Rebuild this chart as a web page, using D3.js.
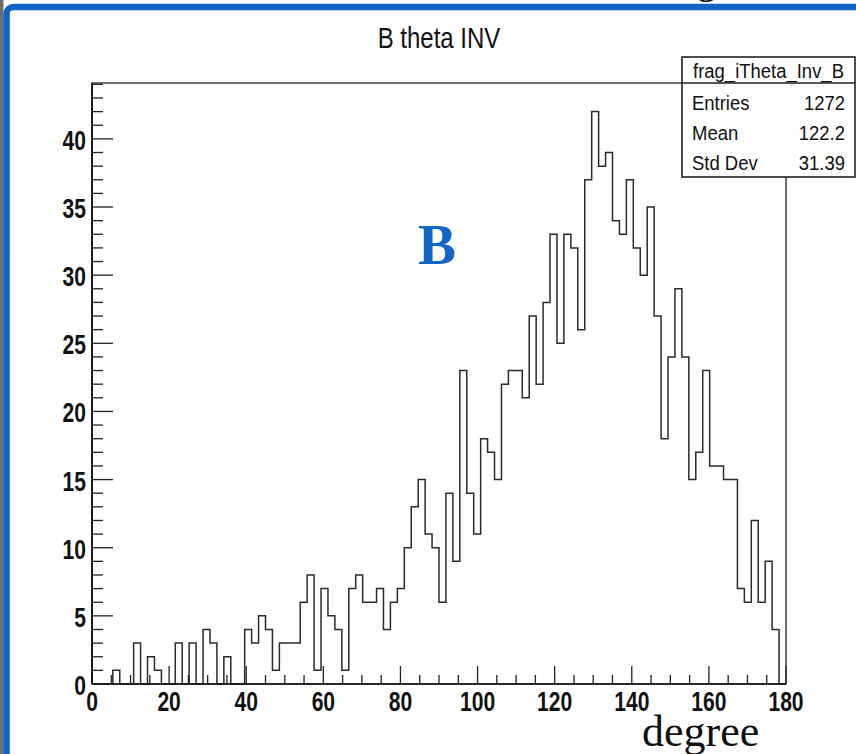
<!DOCTYPE html>
<html>
<head>
<meta charset="utf-8">
<script src="https://cdn.jsdelivr.net/npm/d3@7/dist/d3.min.js"></script>
<style>
  html, body { margin: 0; padding: 0; background: #ffffff; }
  svg { display: block; }
</style>
</head>
<body>
<svg id="chart" width="856" height="754"></svg>
<script>
// Histogram frag_iTheta_Inv_B: 100 bins over 0..180 degrees
const xRange = [0, 180];
const binCounts = [
  0, 0, 0, 1, 0, 0, 3, 0, 2, 1,
  0, 0, 3, 0, 3, 0, 4, 3, 0, 2,
  0, 0, 4, 3, 5, 4, 1, 3, 3, 3,
  6, 8, 1, 7, 5, 4, 1, 7, 8, 6,
  6, 7, 4, 6, 7, 10, 13, 15, 11, 10,
  6, 14, 9, 23, 14, 11, 18, 17, 15, 22,
  23, 23, 21, 27, 22, 28, 33, 25, 33, 32,
  26, 37, 42, 38, 39, 34, 33, 37, 32, 30,
  35, 27, 18, 24, 29, 24, 15, 17, 23, 16,
  16, 15, 15, 7, 6, 12, 6, 9, 4, 0
];
const xTickLabels = [0, 20, 40, 60, 80, 100, 120, 140, 160, 180];
const yTickLabels = [0, 5, 10, 15, 20, 25, 30, 35, 40];
const statNames = ["Entries", "Mean", "Std Dev"];
const statValues = ["1272", "122.2", "31.39"];
const histName = "frag_iTheta_Inv_B";
const histTitle = "B theta INV";
const xAxisTitle = "degree";
const panelTag = "B";

const svg = d3.select("#chart");
const W = 856, H = 754;
const frame = { left: 92, right: 786, top: 83, bottom: 684 };

const sans = "'Liberation Sans', Arial, Helvetica, sans-serif";
const serif = "'Liberation Serif', 'Times New Roman', serif";

svg.append("rect").attr("width", W).attr("height", H).attr("fill", "#fff");

// slide border
svg.append("rect").attr("x", 0).attr("y", 0).attr("width", 3.5).attr("height", H).attr("fill", "#6e6e6e");
svg.append("rect")
  .attr("x", 6.5).attr("y", 7).attr("width", W + 40).attr("height", H + 40)
  .attr("rx", 7).attr("fill", "none").attr("stroke", "#0f64c4").attr("stroke-width", 6.5);
svg.append("text").attr("x", 697).attr("y", -6.5)
  .attr("font-family", serif).attr("font-size", 38).attr("fill", "#111").text("g");

const ymax = d3.max(binCounts) * 1.05;
const x = d3.scaleLinear().domain(xRange).range([frame.left, frame.right]);
const y = d3.scaleLinear().domain([0, ymax]).range([frame.bottom, frame.top]);

// pad frame
svg.append("rect")
  .attr("x", frame.left).attr("y", frame.top)
  .attr("width", frame.right - frame.left).attr("height", frame.bottom - frame.top)
  .attr("fill", "none").attr("stroke", "#222").attr("stroke-width", 1.3);

// histogram outline
const nb = binCounts.length;
const bw = (xRange[1] - xRange[0]) / nb;
const pts = [[xRange[0], 0]];
binCounts.forEach((c, i) => {
  pts.push([xRange[0] + i * bw, c]);
  pts.push([xRange[0] + (i + 1) * bw, c]);
});
pts.push([xRange[1], 0]);
const line = d3.line().x(d => x(d[0])).y(d => y(d[1]));
svg.append("path").attr("d", line(pts))
  .attr("fill", "none").attr("stroke", "#2b2b2b").attr("stroke-width", 1.5);

// x axis
const xAxis = svg.append("g");
xAxis.append("line").attr("x1", frame.left).attr("x2", frame.right)
  .attr("y1", frame.bottom).attr("y2", frame.bottom).attr("stroke", "#111").attr("stroke-width", 1.6);
d3.range(0, 181, 5).forEach(v => {
  const major = v % 20 === 0;
  xAxis.append("line").attr("x1", x(v)).attr("x2", x(v))
    .attr("y1", frame.bottom).attr("y2", frame.bottom - (major ? 18 : 9))
    .attr("stroke", "#222").attr("stroke-width", 1.3);
});
xTickLabels.forEach(v => {
  xAxis.append("text")
    .attr("transform", `translate(${x(v)},711) scale(0.78,1)`)
    .attr("text-anchor", "middle")
    .attr("font-family", sans).attr("font-weight", "bold").attr("font-size", 27)
    .attr("fill", "#111").text(v);
});

// y axis
const yAxis = svg.append("g");
yAxis.append("line").attr("x1", frame.left).attr("x2", frame.left)
  .attr("y1", frame.top).attr("y2", frame.bottom).attr("stroke", "#111").attr("stroke-width", 1.8);
d3.range(0, Math.floor(ymax) + 1, 1).forEach(v => {
  const major = v % 5 === 0;
  yAxis.append("line").attr("x1", frame.left).attr("x2", frame.left + (major ? 21 : 11))
    .attr("y1", y(v)).attr("y2", y(v))
    .attr("stroke", "#222").attr("stroke-width", 1.3);
});
yTickLabels.forEach(v => {
  yAxis.append("text")
    .attr("transform", `translate(86,${y(v) + 11}) scale(0.78,1)`)
    .attr("text-anchor", "end")
    .attr("font-family", sans).attr("font-weight", "bold").attr("font-size", 27)
    .attr("fill", "#111").text(v);
});

// histogram title
svg.append("text")
  .attr("transform", `translate(439,48) scale(0.8,1)`)
  .attr("text-anchor", "middle")
  .attr("font-family", sans).attr("font-size", 30).attr("fill", "#111")
  .text(histTitle);

// statistics box
const box = { x: 682, y: 57, w: 173, h: 120, head: 26 };
const stats = svg.append("g");
stats.append("rect").attr("x", box.x).attr("y", box.y).attr("width", box.w).attr("height", box.h)
  .attr("fill", "#fff").attr("stroke", "#222").attr("stroke-width", 1.6);
stats.append("line").attr("x1", box.x).attr("x2", box.x + box.w)
  .attr("y1", box.y + box.head).attr("y2", box.y + box.head)
  .attr("stroke", "#222").attr("stroke-width", 1.3);
stats.append("text")
  .attr("transform", `translate(${box.x + box.w / 2},78) scale(0.88,1)`)
  .attr("text-anchor", "middle")
  .attr("font-family", sans).attr("font-size", 21).attr("fill", "#111").text(histName);
statNames.forEach((n, i) => {
  const by = 110 + i * 30;
  stats.append("text")
    .attr("transform", `translate(692,${by}) scale(0.88,1)`)
    .attr("font-family", sans).attr("font-size", 21).attr("fill", "#111").text(n);
  stats.append("text")
    .attr("transform", `translate(845,${by}) scale(0.88,1)`)
    .attr("text-anchor", "end")
    .attr("font-family", sans).attr("font-size", 21).attr("fill", "#111").text(statValues[i]);
});

// annotations
svg.append("text").attr("x", 418).attr("y", 264)
  .attr("font-family", serif).attr("font-weight", "bold").attr("font-size", 57)
  .attr("fill", "#1266c6").text(panelTag);
svg.append("text").attr("x", 642).attr("y", 746)
  .attr("font-family", serif).attr("font-size", 44)
  .attr("fill", "#111").text(xAxisTitle);
</script>
</body>
</html>
